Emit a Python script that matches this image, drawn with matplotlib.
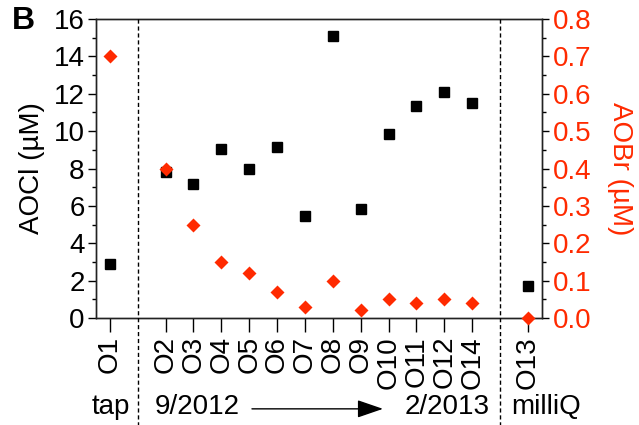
import matplotlib
matplotlib.use("Agg")
import matplotlib.pyplot as plt
import matplotlib.transforms as mtransforms
from matplotlib.lines import Line2D
from matplotlib.ticker import MultipleLocator

plt.rcParams['font.family'] = ['Liberation Sans', 'DejaVu Sans']

RED = '#ff2a00'
FS = 20

samples = ['O1', 'O2', 'O3', 'O4', 'O5', 'O6', 'O7', 'O8', 'O9',
           'O10', 'O11', 'O12', 'O14', 'O13']
xpos = [0, 2, 3, 4, 5, 6, 7, 8, 9, 10, 11, 12, 13, 15]
aocl = [2.9, 7.8, 7.15, 9.05, 8.0, 9.15, 5.45, 15.1, 5.85,
        9.85, 11.35, 12.1, 11.5, 1.7]
aobr = [0.70, 0.40, 0.25, 0.15, 0.12, 0.07, 0.03, 0.10, 0.02,
        0.05, 0.04, 0.05, 0.04, 0.0]
dividers = [1, 14]


def main():
    fig = plt.figure(figsize=(6.39, 4.25), dpi=100)
    ax = fig.add_axes([0.150, 0.252, 0.698, 0.703])
    ax2 = ax.twinx()

    ax.plot(xpos, aocl, 's', color='black', ms=7.0, clip_on=False, zorder=5)
    ax2.plot(xpos, aobr, 'D', color=RED, ms=7.6, mec='none',
             clip_on=False, zorder=5)

    ax.set_xlim(-0.5, 15.5)
    ax.set_ylim(0, 16)
    ax2.set_ylim(0, 0.8)

    ax.set_xticks(xpos)
    ax.set_xticklabels(samples, rotation=90, fontsize=FS)
    ax.yaxis.set_major_locator(MultipleLocator(2))
    ax.yaxis.set_minor_locator(MultipleLocator(1))
    ax2.set_yticks([i / 10 for i in range(9)])
    ax2.set_yticklabels([f"{i / 10:.1f}" for i in range(9)])
    ax2.yaxis.set_minor_locator(MultipleLocator(0.05))

    ax.tick_params(axis='x', length=10, width=1, pad=3)
    ax.tick_params(axis='y', which='major', length=6, width=1, labelsize=FS, pad=2)
    ax.tick_params(axis='y', which='minor', length=3, width=1)
    ax2.tick_params(axis='y', which='major', length=5, width=1, labelsize=FS,
                    labelcolor=RED, pad=3)
    ax2.tick_params(axis='y', which='minor', length=3, width=1)

    ax.set_ylabel('AOCl (µM)', fontsize=FS, labelpad=6)
    ax2.set_ylabel('AOBr (µM)', fontsize=FS, color=RED, rotation=270,
                   labelpad=30)

    for a in (ax, ax2):
        for s in a.spines.values():
            s.set_linewidth(1)
            s.set_color('#222222')

    # dashed separators reaching down into the label row
    trans = mtransforms.blended_transform_factory(ax.transData, fig.transFigure)
    for d in dividers:
        fig.add_artist(Line2D([d, d], [0.955, 0.0], transform=trans,
                              color='black', lw=1, ls=(0, (3, 2))))

    fig.text(0.05, 0.042, 'tap', transform=trans, fontsize=FS,
             ha='center', va='center')
    fig.text(1.6, 0.042, '9/2012', transform=trans, fontsize=FS,
             ha='left', va='center')
    fig.text(13.62, 0.042, '2/2013', transform=trans, fontsize=FS,
             ha='right', va='center')
    fig.text(14.4, 0.042, 'milliQ', transform=trans, fontsize=FS,
             ha='left', va='center')
    ax.annotate('', xy=(9.8, 0.038), xytext=(5.1, 0.038),
                xycoords=trans, textcoords=trans,
                arrowprops=dict(arrowstyle='-|>,head_length=1.6,head_width=0.55',
                                color='black', lw=1.0, shrinkA=0, shrinkB=0))

    fig.text(0.019, 0.950, 'B', fontsize=23, fontweight='bold',
             ha='left', va='center')

    fig.savefig('out.png', dpi=100)


if __name__ == "__main__":
    main()
